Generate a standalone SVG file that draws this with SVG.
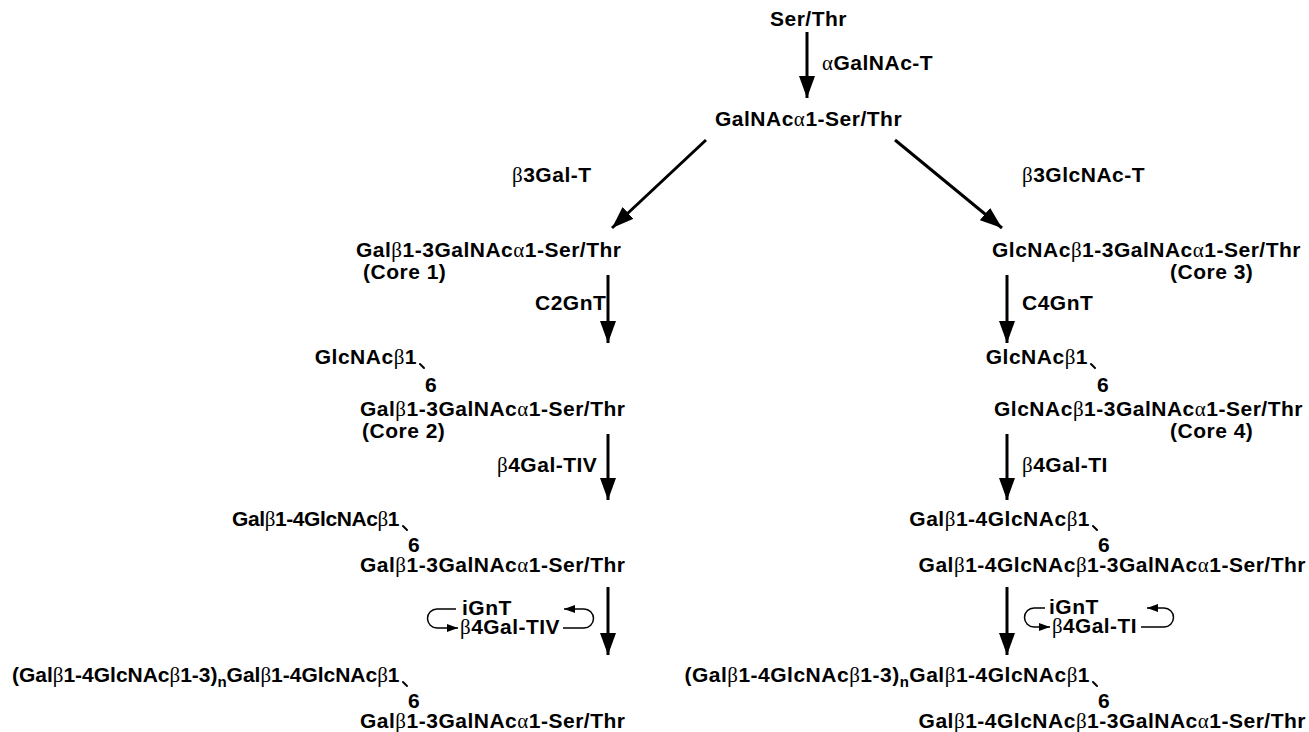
<svg xmlns="http://www.w3.org/2000/svg" width="1309" height="732" viewBox="0 0 1309 732">
<style>
text{font-family:"Liberation Sans",Arial,sans-serif;font-weight:bold;font-size:21px;letter-spacing:0.5px;fill:#000}
.g{font-family:"Liberation Serif","Times New Roman",serif;font-weight:normal}
.sub{font-size:15px}
.e{text-anchor:end}
.big{stroke:#000;stroke-width:3;fill:none}
.sm{stroke:#000;stroke-width:1.5;fill:none}
.tick{stroke:#000;stroke-width:2;stroke-linecap:round}
</style>
<defs>
<marker id="ah" markerUnits="userSpaceOnUse" markerWidth="22" markerHeight="16" refX="22" refY="8" orient="auto">
<path d="M0,0 L22,8 L0,16 z" fill="#000"/>
</marker>
<marker id="as" markerUnits="userSpaceOnUse" markerWidth="11" markerHeight="8" refX="11" refY="4" orient="auto">
<path d="M0,0 L11,4 L0,8 z" fill="#000"/>
</marker>
</defs>
<rect width="1309" height="732" fill="#fff"/>

<g id="connectors">
<line class="big" x1="807" y1="32" x2="807" y2="98" marker-end="url(#ah)"/>
<line class="big" x1="706" y1="140" x2="612" y2="228" marker-end="url(#ah)"/>
<line class="big" x1="895" y1="140" x2="1002" y2="228" marker-end="url(#ah)"/>
<line class="big" x1="608" y1="275" x2="608" y2="343" marker-end="url(#ah)"/>
<line class="big" x1="1007" y1="275" x2="1007" y2="343" marker-end="url(#ah)"/>
<line class="big" x1="608" y1="434" x2="608" y2="500" marker-end="url(#ah)"/>
<line class="big" x1="1007" y1="434" x2="1007" y2="500" marker-end="url(#ah)"/>
<line class="big" x1="608" y1="587" x2="608" y2="655" marker-end="url(#ah)"/>
<line class="big" x1="1007" y1="587" x2="1007" y2="655" marker-end="url(#ah)"/>
<path class="sm" d="M456,609 H437 A9.5,9.5 0 0 0 437,628 H458" marker-end="url(#as)"/>
<path class="sm" d="M563,628 H584 A9.5,9.5 0 0 0 584,609 H564" marker-end="url(#as)"/>
<path class="sm" d="M1045,608 H1034 A9.5,9.5 0 0 0 1034,627 H1050" marker-end="url(#as)"/>
<path class="sm" d="M1141,627 H1164 A9.5,9.5 0 0 0 1164,608 H1147" marker-end="url(#as)"/>
</g>

<g id="labels">
<text x="822" y="70"><tspan class="g">α</tspan>GalNAc-T</text>
<text x="512" y="182"><tspan class="g">β</tspan>3Gal-T</text>
<text x="1022" y="182"><tspan class="g">β</tspan>3GlcNAc-T</text>
<text x="535" y="310">C2GnT</text>
<text x="1022" y="310">C4GnT</text>
<text x="497" y="472"><tspan class="g">β</tspan>4Gal-TIV</text>
<text x="1022" y="472"><tspan class="g">β</tspan>4Gal-TI</text>
<text x="462" y="615">iGnT</text>
<text x="460" y="634" textLength="100" lengthAdjust="spacingAndGlyphs"><tspan class="g">β</tspan>4Gal-TIV</text>
<text x="1049" y="614">iGnT</text>
<text x="1052" y="633" textLength="85" lengthAdjust="spacingAndGlyphs"><tspan class="g">β</tspan>4Gal-TI</text>
</g>

<g id="node-serthr"><text x="770" y="26">Ser/Thr</text></g>
<g id="node-galnac"><text x="715" y="126">GalNAc<tspan class="g">α</tspan>1-Ser/Thr</text></g>

<g id="node-core1">
<text x="356" y="257">Gal<tspan class="g">β</tspan>1-3GalNAc<tspan class="g">α</tspan>1-Ser/Thr</text>
<text x="363" y="279">(Core 1)</text>
</g>
<g id="node-core3">
<text class="e" x="1301" y="257">GlcNAc<tspan class="g">β</tspan>1-3GalNAc<tspan class="g">α</tspan>1-Ser/Thr</text>
<text x="1170" y="279">(Core 3)</text>
</g>

<g id="node-core2">
<text class="e" x="417" y="364">GlcNAc<tspan class="g">β</tspan>1</text>
<line class="tick" x1="420" y1="364" x2="424" y2="368"/>
<text x="425" y="392">6</text>
<text x="360" y="416">Gal<tspan class="g">β</tspan>1-3GalNAc<tspan class="g">α</tspan>1-Ser/Thr</text>
<text x="362" y="438">(Core 2)</text>
</g>
<g id="node-core4">
<text class="e" x="1088" y="364">GlcNAc<tspan class="g">β</tspan>1</text>
<line class="tick" x1="1091" y1="364" x2="1095" y2="368"/>
<text x="1097" y="392">6</text>
<text class="e" x="1303" y="416">GlcNAc<tspan class="g">β</tspan>1-3GalNAc<tspan class="g">α</tspan>1-Ser/Thr</text>
<text x="1170" y="438">(Core 4)</text>
</g>

<g id="node-left3">
<text x="232" y="526" textLength="168" lengthAdjust="spacing">Gal<tspan class="g">β</tspan>1-4GlcNAc<tspan class="g">β</tspan>1</text>
<line class="tick" x1="403" y1="526" x2="407" y2="530"/>
<text x="408" y="552">6</text>
<text x="360" y="572">Gal<tspan class="g">β</tspan>1-3GalNAc<tspan class="g">α</tspan>1-Ser/Thr</text>
</g>
<g id="node-right3">
<text class="e" x="1090" y="526">Gal<tspan class="g">β</tspan>1-4GlcNAc<tspan class="g">β</tspan>1</text>
<line class="tick" x1="1093" y1="526" x2="1097" y2="530"/>
<text x="1098" y="552">6</text>
<text class="e" x="1306" y="572">Gal<tspan class="g">β</tspan>1-4GlcNAc<tspan class="g">β</tspan>1-3GalNAc<tspan class="g">α</tspan>1-Ser/Thr</text>
</g>

<g id="node-left4">
<text x="12" y="682" textLength="388" lengthAdjust="spacing">(Gal<tspan class="g">β</tspan>1-4GlcNAc<tspan class="g">β</tspan>1-3)<tspan class="sub" dy="5">n</tspan><tspan dy="-5">Gal</tspan><tspan class="g">β</tspan>1-4GlcNAc<tspan class="g">β</tspan>1</text>
<line class="tick" x1="403" y1="682" x2="407" y2="686"/>
<text x="408" y="708">6</text>
<text x="360" y="728">Gal<tspan class="g">β</tspan>1-3GalNAc<tspan class="g">α</tspan>1-Ser/Thr</text>
</g>
<g id="node-right4">
<text class="e" x="1090" y="682">(Gal<tspan class="g">β</tspan>1-4GlcNAc<tspan class="g">β</tspan>1-3)<tspan class="sub" dy="5">n</tspan><tspan dy="-5">Gal</tspan><tspan class="g">β</tspan>1-4GlcNAc<tspan class="g">β</tspan>1</text>
<line class="tick" x1="1093" y1="682" x2="1097" y2="686"/>
<text x="1098" y="708">6</text>
<text class="e" x="1306" y="728">Gal<tspan class="g">β</tspan>1-4GlcNAc<tspan class="g">β</tspan>1-3GalNAc<tspan class="g">α</tspan>1-Ser/Thr</text>
</g>
</svg>
